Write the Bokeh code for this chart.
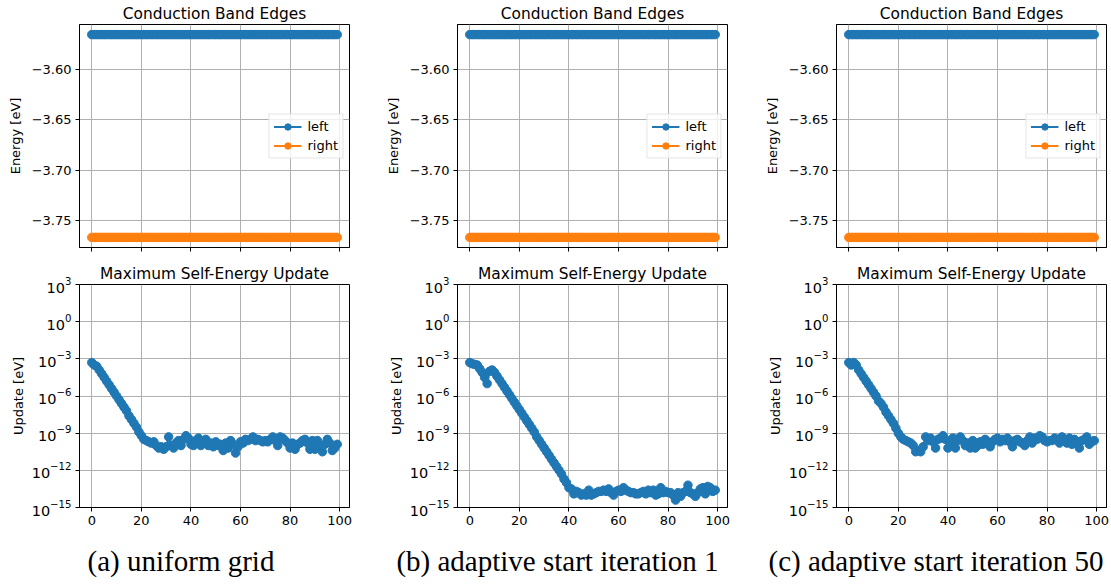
from bokeh.plotting import figure
from bokeh.layouts import column, row
from bokeh.models import Div, FixedTicker, Range1d
from bokeh.embed import file_html
from bokeh.resources import INLINE

# ---------------- data ----------------
iterations = list(range(100))

left_edge_value = -3.5657   # eV
right_edge_value = -3.7663  # eV
left_edge = [left_edge_value] * len(iterations)
right_edge = [right_edge_value] * len(iterations)

# log10 of the maximum self-energy update (eV)
log_update_uniform = [
    -3.3, -3.5, -3.6, -3.9, -4.2, -4.5, -4.8, -5.1, -5.4, -5.7,
    -6.0, -6.3, -6.6, -6.9, -7.2, -7.6, -7.9, -8.2, -8.5, -8.9,
    -9.2, -9.5, -9.6, -9.7, -9.8, -9.7, -10.0, -10.2, -10.1, -10.3,
    -10.1, -9.3, -10.0, -10.2, -9.8, -9.6, -10.0, -9.5, -9.2, -9.4,
    -9.9, -10.0, -9.6, -9.4, -10.0, -9.7, -9.5, -10.0, -9.8, -10.1,
    -9.7, -10.0, -9.9, -10.4, -9.8, -10.2, -9.6, -9.9, -10.6, -10.1,
    -9.7, -9.8, -9.5, -9.6, -9.5, -9.3, -9.6, -9.5, -9.6, -9.7,
    -9.6, -9.7, -9.5, -9.3, -9.6, -10.0, -9.3, -9.4, -9.6, -9.8,
    -10.2, -9.8, -10.3, -9.9, -9.8, -9.6, -9.5, -9.8, -10.3, -9.6,
    -10.3, -9.6, -10.0, -10.5, -9.9, -9.5, -9.8, -10.4, -10.2, -9.9,
]
log_update_adaptive_1 = [
    -3.3, -3.4, -3.45, -3.5, -3.8, -4.1, -4.5, -5.0, -4.0, -3.9,
    -4.1, -4.4, -4.7, -5.0, -5.3, -5.6, -5.9, -6.2, -6.5, -6.8,
    -7.1, -7.4, -7.7, -8.0, -8.3, -8.6, -8.9, -9.3, -9.6, -9.9,
    -10.2, -10.5, -10.8, -11.1, -11.4, -11.7, -12.0, -12.3, -12.7, -13.0,
    -13.4, -13.5, -13.9, -13.7, -13.8, -14.0, -13.9, -14.0, -13.6, -14.0,
    -13.9, -13.8, -13.7, -13.7, -13.6, -13.7, -13.5, -13.8, -14.0, -13.7,
    -13.6, -13.7, -13.4, -13.6, -13.7, -13.8, -13.8, -13.9, -13.9, -13.8,
    -13.7, -13.9, -13.6, -13.8, -13.6, -14.0, -13.9, -13.4, -13.8, -13.7,
    -13.8, -13.8, -14.0, -14.4, -13.8, -14.1, -13.8, -13.7, -13.2, -13.8,
    -13.9, -14.1, -13.8, -13.5, -13.4, -13.9, -13.3, -13.4, -13.7, -13.6,
]
log_update_adaptive_50 = [
    -3.3, -3.5, -3.3, -3.5, -3.9, -4.2, -4.5, -4.8, -5.1, -5.4,
    -5.7, -6.0, -6.4, -6.6, -6.9, -7.3, -7.6, -7.9, -8.2, -8.6,
    -9.0, -9.3, -9.5, -9.6, -9.7, -9.8, -10.0, -10.5, -10.4, -10.5,
    -10.1, -9.3, -9.6, -9.4, -9.7, -10.2, -9.5, -9.4, -9.2, -9.5,
    -10.2, -9.8, -9.4, -10.2, -9.6, -9.3, -9.6, -10.0, -9.8, -10.2,
    -9.6, -10.2, -10.0, -9.7, -9.9, -9.5, -9.7, -10.1, -9.7, -9.5,
    -9.4, -9.7, -9.5, -9.6, -9.4, -9.7, -10.1, -9.6, -9.5, -9.7,
    -9.8, -10.0, -9.6, -9.3, -9.8, -9.4, -9.5, -9.2, -9.3, -9.6,
    -9.7, -9.6, -9.6, -9.4, -9.5, -9.8, -9.3, -9.6, -9.8, -9.4,
    -9.9, -9.5, -9.7, -10.2, -9.6, -9.5, -9.3, -9.9, -9.7, -9.6,
]

energy_ticks = [-3.75, -3.70, -3.65, -3.60]
energy_tick_labels = ["\u22123.75", "\u22123.70", "\u22123.65", "\u22123.60"]
iteration_ticks = [0, 20, 40, 60, 80, 100]
update_ticks = [1e3, 1e0, 1e-3, 1e-6, 1e-9, 1e-12, 1e-15]

captions = ["(a) uniform grid", "(b) adaptive start iteration 1",
            "(c) adaptive start iteration 50"]
update_series = [log_update_uniform, log_update_adaptive_1, log_update_adaptive_50]

# ---------------- style ----------------
BLUE = "#1f77b4"
ORANGE = "#ff7f0e"
FONT = "DejaVu Sans"
FRAME_W = 270
LEFT_B = 79
RIGHT_B = [29, 30, 5]
CAPTION_SHIFT = [-8, -10, 2]
X_RANGE = (-4.95, 103.95)
MARKER = 8.5
LINE_W = 2


def style_axes(p):
    p.outline_line_color = "black"
    p.outline_line_width = 1
    p.grid.grid_line_color = "#b0b0b0"
    p.grid.grid_line_width = 1
    for ax in (p.xaxis[0], p.yaxis[0]):
        ax.axis_line_color = "black"
        ax.major_tick_line_color = "black"
        ax.major_tick_out = 4
        ax.major_tick_in = 0
        ax.minor_tick_line_color = None
        ax.major_label_text_font = FONT
        ax.major_label_text_font_size = "13px"
        ax.major_label_text_color = "black"
        ax.axis_label_text_font = FONT
        ax.axis_label_text_font_size = "13px"
        ax.axis_label_text_font_style = "normal"
        ax.axis_label_text_color = "black"
        ax.major_label_standoff = 4
    p.title.text_font = FONT
    p.title.text_font_size = "15.4px"
    p.title.text_font_style = "normal"
    p.title.text_color = "black"
    p.title.align = "center"
    p.title.standoff = 4


columns = []
for k in range(3):
    w = LEFT_B + FRAME_W + RIGHT_B[k]

    top = figure(width=w, height=260, title="Conduction Band Edges",
                 x_range=Range1d(*X_RANGE),
                 y_range=Range1d(-3.7763, -3.5557),
                 output_backend="svg", toolbar_location=None,
                 min_border_left=LEFT_B, min_border_right=RIGHT_B[k],
                 min_border_top=24, min_border_bottom=13)
    top.line(iterations, left_edge, color=BLUE, line_width=LINE_W, legend_label="left")
    top.scatter(iterations, left_edge, color=BLUE, size=MARKER, legend_label="left")
    top.line(iterations, right_edge, color=ORANGE, line_width=LINE_W, legend_label="right")
    top.scatter(iterations, right_edge, color=ORANGE, size=MARKER, legend_label="right")
    style_axes(top)
    top.xaxis.ticker = FixedTicker(ticks=iteration_ticks, minor_ticks=[])
    top.xaxis.major_label_overrides = {t: "" for t in iteration_ticks}
    top.xaxis.major_label_text_font_size = "0px"
    top.yaxis.ticker = FixedTicker(ticks=energy_ticks, minor_ticks=[])
    top.yaxis.major_label_overrides = dict(zip(energy_ticks, energy_tick_labels))
    top.yaxis.axis_label = "Energy [eV]"
    top.yaxis.axis_label_standoff = 6
    lg = top.legend[0]
    lg.location = "right"
    lg.margin = 6
    lg.padding = 4
    lg.spacing = 3
    lg.glyph_width = 28
    lg.glyph_height = 16
    lg.label_height = 16
    lg.label_standoff = 6
    lg.label_text_font = FONT
    lg.label_text_font_size = "13px"
    lg.label_text_color = "black"
    lg.border_line_color = "#cccccc"
    lg.border_line_width = 1
    lg.background_fill_alpha = 0.8

    ys = [10 ** v for v in update_series[k]]
    bot = figure(width=w, height=270, title="Maximum Self-Energy Update",
                 x_range=Range1d(*X_RANGE), y_range=Range1d(1e-15, 1e3),
                 y_axis_type="log",
                 output_backend="svg", toolbar_location=None,
                 min_border_left=LEFT_B, min_border_right=RIGHT_B[k],
                 min_border_top=24, min_border_bottom=23)
    bot.line(iterations, ys, color=BLUE, line_width=LINE_W)
    bot.scatter(iterations, ys, color=BLUE, size=MARKER)
    style_axes(bot)
    bot.xaxis.ticker = FixedTicker(ticks=iteration_ticks, minor_ticks=[])
    bot.yaxis.ticker = FixedTicker(ticks=update_ticks, minor_ticks=[])
    bot.yaxis.major_label_text_font_size = "14.5px"
    bot.yaxis.axis_label = "Update [eV]"
    bot.yaxis.axis_label_standoff = 3

    cap = Div(text=captions[k], width=w, height=58, margin=0,
              styles={"font-family": "Liberation Serif", "font-size": "29px",
                      "text-align": "center", "color": "black",
                      "line-height": "62px", "position": "relative",
                      "left": f"{CAPTION_SHIFT[k]}px"})
    columns.append(column(top, bot, cap, spacing=0))

layout = row(*columns, spacing=0)
open("out.html", "w").write(file_html(layout, INLINE))
